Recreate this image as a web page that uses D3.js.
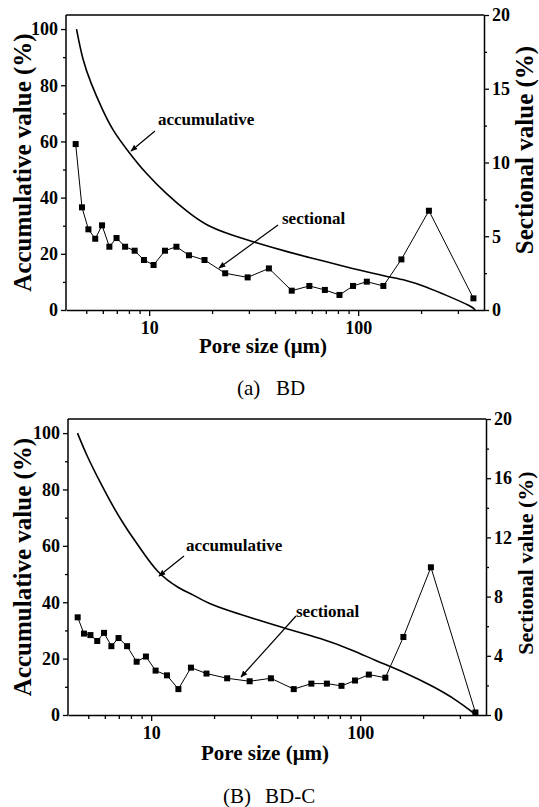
<!DOCTYPE html>
<html>
<head>
<meta charset="utf-8">
<script src="https://cdn.jsdelivr.net/npm/d3@7"></script>
<style>
  body { margin: 0; background: #fff; }
</style>
</head>
<body>
<div id="chart"></div>
<script>
// pore size bins shared by both sectional series (um)
const poreSize = [4.45, 4.77, 5.12, 5.52, 5.95, 6.45, 6.98, 7.67, 8.52, 9.44, 10.5, 11.9, 13.5, 15.5,
                  18.4, 23.1, 29.6, 37.4, 48.1, 58.4, 69.3, 81.4, 94.5, 110, 132, 161, 218, 356];

// (a) BD
const bdSectional = [11.25, 6.96, 5.47, 4.83, 5.74, 4.29, 4.88, 4.29, 4.02, 3.39, 3.05, 4.02, 4.29, 3.71,
                     3.39, 2.49, 2.21, 2.82, 1.31, 1.63, 1.36, 1.02, 1.63, 1.92, 1.63, 3.43, 6.73, 0.79];
const bdAccumSize = [4.49, 4.8, 5.26, 5.98, 6.67, 8.02, 9.64, 12.0, 15.5, 18.7, 23.3, 31.2,
                     48.5, 56.2, 81.1, 101, 136, 169, 211, 263, 352, 363];
const bdAccum = [100, 89, 80.7, 71.2, 64, 56, 48.6, 41.5, 34.4, 30.2, 27.3, 24.3,
                 20.2, 19, 16, 14.2, 11.9, 10.7, 8.3, 5.3, 1.2, 0];

// (B) BD-C
const bdcSectional = [6.6, 5.5, 5.4, 5.0, 5.55, 4.65, 5.2, 4.65, 3.6, 3.95, 3.0, 2.68, 1.75, 3.2,
                      2.8, 2.48, 2.28, 2.48, 1.75, 2.12, 2.12, 1.97, 2.33, 2.73, 2.52, 5.27, 9.98, 0.17];
const bdcAccumSize = [4.44, 4.92, 5.7, 6.61, 7.66, 8.85, 10.65, 13.75, 15.9, 18.5, 23.9, 32.1,
                      44.6, 64.4, 93, 116, 167, 224, 290, 359];
const bdcAccum = [100, 91.9, 82.5, 73.5, 65.8, 59.3, 50.4, 44.6, 42.7, 39.7, 36.8, 33.8,
                  30.5, 27.3, 22.9, 19.6, 14.8, 10.1, 5.3, 0];

const xDomain = [4, 400];
const xTicks = [10, 100];
const xMinorTicks = [5, 6, 7, 8, 9, 20, 30, 40, 50, 60, 70, 80, 90, 200, 300];
const leftTicks = [0, 20, 40, 60, 80, 100];
const leftMinorTicks = [10, 30, 50, 70, 90];
const bdRightTicks = [0, 5, 10, 15, 20];
const bdRightMinor = [2.5, 7.5, 12.5, 17.5];
const bdcRightTicks = [0, 4, 8, 12, 16, 20];
const bdcRightMinor = [2, 6, 10, 14, 18];

const width = 539, height = 807;
const FONT = "Liberation Serif";

const svg = d3.select("#chart").append("svg")
    .attr("width", width)
    .attr("height", height);

svg.append("defs").append("marker")
    .attr("id", "arrow")
    .attr("viewBox", "0 0 10 10")
    .attr("refX", 9).attr("refY", 5)
    .attr("markerWidth", 7).attr("markerHeight", 7)
    .attr("markerUnits", "userSpaceOnUse")
    .attr("orient", "auto")
    .append("path")
    .attr("d", "M0,1 L10,5 L0,9 Z")
    .attr("fill", "#000");

function bold(sel, size) {
    return sel.attr("font-family", FONT)
        .attr("font-size", size)
        .attr("font-weight", "bold")
        .attr("fill", "#000");
}

function drawPanel(p) {
    const g = svg.append("g");

    const x = d3.scaleLog().domain(xDomain).range([p.left, p.right]);
    const yL = d3.scaleLinear().domain([0, 105]).range([p.bottom, p.top]);
    const yR = d3.scaleLinear().domain([0, 20]).range([p.bottom, p.top]);

    g.append("line")
        .attr("x1", p.left).attr("x2", p.right)
        .attr("y1", p.top).attr("y2", p.top)
        .attr("stroke", "#000").attr("stroke-width", 1.5);

    const styleAxis = sel => {
        sel.attr("font-family", null);
        sel.selectAll("path.domain").attr("stroke-width", 1.5);
        sel.selectAll(".tick line").attr("stroke-width", 1.3);
        sel.selectAll("text").call(bold, 18);
    };

    // x axis
    g.append("g")
        .attr("transform", `translate(0,${p.bottom})`)
        .call(d3.axisBottom(x).tickValues(xMinorTicks).tickSize(4).tickSizeOuter(0).tickFormat(""))
        .call(s => s.select("path.domain").remove())
        .call(styleAxis);
    g.append("g")
        .attr("transform", `translate(0,${p.bottom})`)
        .call(d3.axisBottom(x).tickValues(xTicks).tickSize(6).tickSizeOuter(0).tickPadding(5)
            .tickFormat(d3.format("d")))
        .call(styleAxis);

    // left axis
    g.append("g")
        .attr("transform", `translate(${p.left},0)`)
        .call(d3.axisLeft(yL).tickValues(leftMinorTicks).tickSize(3).tickSizeOuter(0).tickFormat(""))
        .call(s => s.select("path.domain").remove())
        .call(styleAxis);
    g.append("g")
        .attr("transform", `translate(${p.left},0)`)
        .call(d3.axisLeft(yL).tickValues(leftTicks).tickSize(5).tickSizeOuter(0).tickPadding(3))
        .call(s => s.select("path.domain").attr("d", `M0,${p.top}V${p.bottom}`))
        .call(styleAxis);

    // right axis
    g.append("g")
        .attr("transform", `translate(${p.right},0)`)
        .call(d3.axisRight(yR).tickValues(p.rightMinor).tickSize(3).tickSizeOuter(0).tickFormat(""))
        .call(s => s.select("path.domain").remove())
        .call(styleAxis);
    g.append("g")
        .attr("transform", `translate(${p.right},0)`)
        .call(d3.axisRight(yR).tickValues(p.rightTicks).tickSize(5).tickSizeOuter(0).tickPadding(3))
        .call(styleAxis);

    // axis titles
    g.append("text")
        .attr("transform", `translate(31,${(p.top + p.bottom) / 2}) rotate(-90)`)
        .attr("text-anchor", "middle")
        .call(bold, 25)
        .text("Accumulative value (%)");
    g.append("text")
        .attr("transform", `translate(533,${p.rightTitleY}) rotate(-90)`)
        .attr("text-anchor", "middle")
        .call(bold, p.rightTitleSize)
        .text("Sectional value (%)");
    g.append("text")
        .attr("x", (p.left + p.right) / 2 - 12)
        .attr("y", p.bottom + p.xTitleDy)
        .attr("text-anchor", "middle")
        .call(bold, 21)
        .text("Pore size (\u03bcm)");

    // caption
    p.caption.forEach((c, i) => {
        g.append("text")
            .attr("x", p.capX[i]).attr("y", p.bottom + p.capDy)
            .attr("font-family", FONT).attr("font-size", 21)
            .text(c);
    });

    // accumulative curve
    const accLine = d3.line()
        .x((d, i) => x(p.accSize[i]))
        .y(d => yL(d))
        .curve(d3.curveBasis);
    g.append("path")
        .datum(p.accum)
        .attr("d", accLine)
        .attr("fill", "none")
        .attr("stroke", "#000")
        .attr("stroke-width", 1.6);

    // sectional line + squares
    const secLine = d3.line()
        .x((d, i) => x(poreSize[i]))
        .y(d => yR(d));
    g.append("path")
        .datum(p.sectional)
        .attr("d", secLine)
        .attr("fill", "none")
        .attr("stroke", "#000")
        .attr("stroke-width", 1);
    g.selectAll("rect.pt")
        .data(p.sectional)
        .enter().append("rect")
        .attr("class", "pt")
        .attr("x", (d, i) => x(poreSize[i]) - 3)
        .attr("y", d => yR(d) - 3)
        .attr("width", 6).attr("height", 6)
        .attr("fill", "#000");

    // annotations
    p.notes.forEach(n => {
        g.append("text")
            .attr("x", n.tx).attr("y", n.ty)
            .call(bold, 17)
            .text(n.label);
        g.append("line")
            .attr("x1", n.x1).attr("y1", n.y1)
            .attr("x2", n.x2).attr("y2", n.y2)
            .attr("stroke", "#000").attr("stroke-width", 1.2)
            .attr("marker-end", "url(#arrow)");
    });
}

drawPanel({
    top: 15, bottom: 310, left: 66, right: 484,
    sectional: bdSectional, accSize: bdAccumSize, accum: bdAccum,
    rightTicks: bdRightTicks, rightMinor: bdRightMinor,
    rightTitleY: 150, rightTitleSize: 25,
    xTitleDy: 43, capDy: 85,
    caption: ["(a)", "BD"], capX: [237, 276],
    notes: [
        { label: "accumulative", tx: 158, ty: 125, x1: 155, y1: 131, x2: 131, y2: 151 },
        { label: "sectional", tx: 282, ty: 224, x1: 278, y1: 225, x2: 219, y2: 268 }
    ]
});

drawPanel({
    top: 419, bottom: 715, left: 68, right: 486,
    sectional: bdcSectional, accSize: bdcAccumSize, accum: bdcAccum,
    rightTitleY: 563, rightTitleSize: 22,
    rightTicks: bdcRightTicks, rightMinor: bdcRightMinor,
    xTitleDy: 45, capDy: 88,
    caption: ["(B)", "BD-C"], capX: [223, 265],
    notes: [
        { label: "accumulative", tx: 186, ty: 551, x1: 184, y1: 556, x2: 159, y2: 576 },
        { label: "sectional", tx: 296, ty: 617, x1: 296, y1: 616, x2: 241, y2: 677 }
    ]
});
</script>
</body>
</html>
